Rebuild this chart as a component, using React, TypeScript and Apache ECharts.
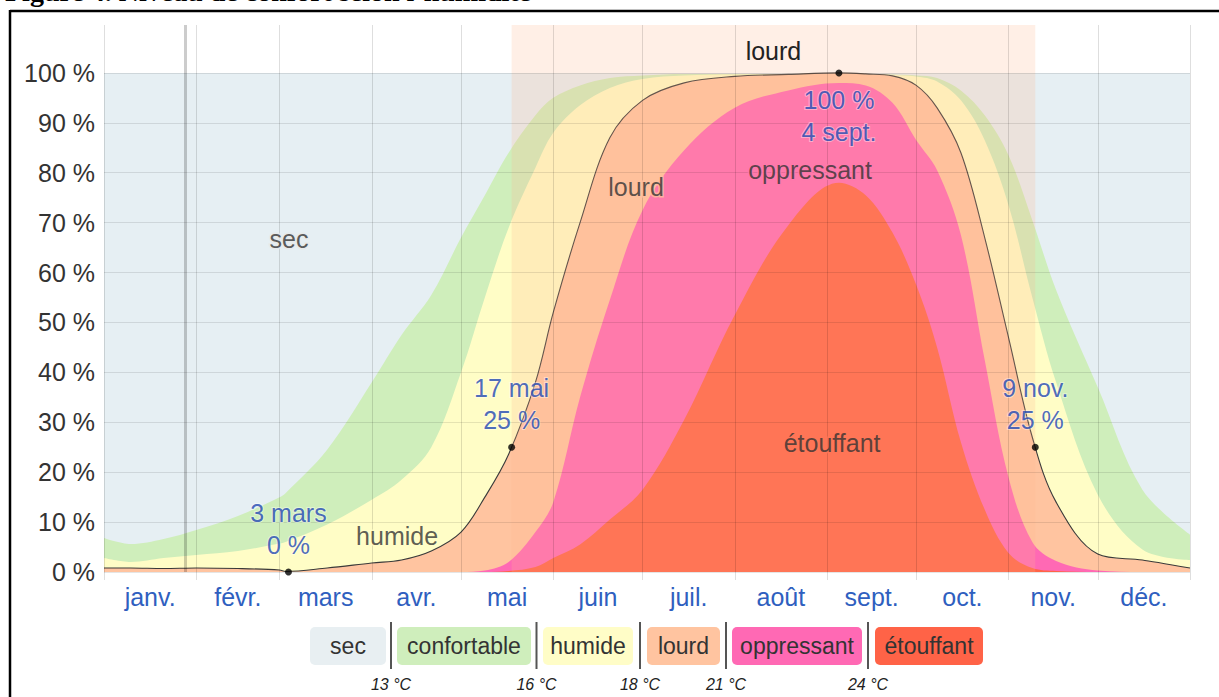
import React, { useEffect, useRef } from "react";
import * as echarts from "echarts";

// ---- data (day of year, cumulative % of time at or above each comfort level) ----
const days = [0, 9, 20, 31, 45, 59, 61, 75, 90, 100, 110, 120, 128, 136, 145, 151, 160, 170, 181, 195, 212, 230, 247, 256, 265, 273, 280, 288, 296, 304, 312, 320, 334, 349, 365];
const secTop = days.map(() => 100);
const confortableTop = [6.8, 5.6, 6.6, 8.4, 11.2, 15, 15.8, 24.5, 38, 47.5, 55.5, 67, 75.5, 84, 91.5, 95, 97.5, 99, 99.5, 99.8, 99.8, 99.8, 99.8, 99.8, 99.7, 99.5, 99, 96.5, 91.5, 83.5, 70.5, 56.5, 37, 16.5, 7.5];
const humideTop = [2.8, 2.0, 2.8, 3.4, 4.2, 5.7, 6.0, 9.5, 14.5, 18.5, 25, 40, 55, 69, 81, 88, 93.5, 97, 98.8, 99.5, 99.7, 99.7, 99.7, 99.7, 99.6, 99.3, 98.3, 94.5, 86.5, 73.5, 55, 38, 15.5, 4.5, 2.4];
const lourdTop = [0.8, 0.8, 0.7, 0.8, 0.7, 0.4, 0.1, 0.8, 1.8, 2.4, 4.2, 8, 15, 23.6, 38, 52, 70, 87, 94.5, 98, 99.3, 99.7, 100, 99.8, 99.4, 97.5, 93, 84, 67, 47, 27, 14, 3.6, 2.4, 0.8];
const oppressantTop = [0, 0, 0, 0, 0, 0, 0, 0, 0, 0, 0, 0, 0.3, 2, 8, 14, 35, 54.5, 72.5, 84.5, 93, 96.5, 98, 97.5, 94, 86.5, 80.5, 67.5, 42.5, 19, 6, 2.2, 0.3, 0, 0];
const etouffantTop = [0, 0, 0, 0, 0, 0, 0, 0, 0, 0, 0, 0, 0, 0.2, 1, 2.8, 5.5, 10.5, 16.5, 30.5, 51.5, 69.5, 78, 75.5, 68, 57.5, 45, 26, 12.5, 3.8, 0.8, 0.2, 0, 0, 0];

const monthNames = ["janv.", "févr.", "mars", "avr.", "mai", "juin", "juil.", "août", "sept.", "oct.", "nov.", "déc."];
const monthStarts = [0, 31, 59, 90, 120, 151, 181, 212, 243, 273, 304, 334, 365];
const monthMids = monthStarts.slice(0, 12).map((s, i) => (s + monthStarts[i + 1]) / 2);
const yTicks = [0, 10, 20, 30, 40, 50, 60, 70, 80, 90, 100];

const todayDay = 27.3;
const lourdSeason = [137, 313];
const annotations = [
  { day: 62, value: 0, text: "3 mars\n0 %", pos: "top" },
  { day: 137, value: 25, text: "17 mai\n25 %", pos: "top" },
  { day: 247, value: 100, text: "100 %\n4 sept.", pos: "bottom" },
  { day: 313, value: 25, text: "9 nov.\n25 %", pos: "top" },
];
const regionLabels = [
  { day: 62.2, value: 66.7, text: "sec", halo: "#e8e9e8" },
  { day: 98.5, value: 7.2, text: "humide", halo: "#fffdc6" },
  { day: 178.8, value: 77.2, text: "lourd", halo: "#ffc09e" },
  { day: 237.3, value: 80.6, text: "oppressant", halo: "#ff79ab" },
  { day: 244.7, value: 25.9, text: "étouffant", halo: "#ff7556" },
];

const legendNames = ["sec", "confortable", "humide", "lourd", "oppressant", "étouffant"];
const legendColors = ["#e8eff2", "#cfeebc", "#fffdc7", "#ffc4a0", "#ff69b4", "#ff6347"];
const chartColors = ["#e6eff3", "#cfeebb", "#fffdc6", "#ffc4a0", "#ff69b4", "#ff6347"];
const tempLabels = ["13 °C", "16 °C", "18 °C", "21 °C", "24 °C"];

const FONT = "'Liberation Sans', Arial, sans-serif";

export default function App() {
  const ref = useRef<HTMLDivElement>(null);
  useEffect(() => {
    if (!ref.current) return;
    const chart = echarts.init(ref.current, undefined, { renderer: "svg" });
    const tops = [secTop, confortableTop, humideTop, lourdTop, oppressantTop, etouffantTop];
    const areaSeries = tops.map((arr, i) => ({
      type: "line",
      name: legendNames[i],
      data: days.map((d, j) => [d, arr[j]]),
      smooth: 0.35,
      showSymbol: false,
      symbol: "none",
      z: 2 + i,
      lineStyle: i === 3 ? { color: "#3a3a3a", width: 1.1 } : { width: 0 },
      areaStyle: { color: chartColors[i], opacity: 1 },
      emphasis: { disabled: true },
      silent: true,
    }));

    // legend layout
    const boxX = [310, 397, 543, 647, 732, 875];
    const boxW = [76, 134, 90, 73, 130, 108];
    const sepX = [391, 536.5, 640, 726, 868];
    const graphics: any[] = [];
    legendNames.forEach((n, i) => {
      graphics.push({
        type: "rect",
        shape: { x: boxX[i], y: 627, width: boxW[i], height: 38, r: 5 },
        style: { fill: legendColors[i] },
      });
      graphics.push({
        type: "text",
        x: boxX[i] + boxW[i] / 2,
        y: 646,
        style: { text: n, fill: "#333", font: `23px ${FONT}`, textAlign: "center", textVerticalAlign: "middle" },
      });
    });
    sepX.forEach((x, i) => {
      graphics.push({ type: "line", shape: { x1: x, y1: 622, x2: x, y2: 669 }, style: { stroke: "#555", lineWidth: 2 } });
      graphics.push({
        type: "text",
        x,
        y: 684,
        style: { text: tempLabels[i], fill: "#222", font: `italic 16px ${FONT}`, textAlign: "center", textVerticalAlign: "middle" },
      });
    });
    // frame + clipped title
    graphics.push({ type: "line", shape: { x1: 10, y1: 11, x2: 1219, y2: 11 }, style: { stroke: "#000", lineWidth: 2.5 } });
    graphics.push({ type: "line", shape: { x1: 10, y1: 10, x2: 10, y2: 697 }, style: { stroke: "#000", lineWidth: 2.5 } });
    graphics.push({
      type: "text",
      x: 5,
      y: 5,
      style: { text: "Figure 4. Niveau de confort selon l’humidité", fill: "#000", font: `bold 28px 'Liberation Serif', serif`, textAlign: "left", textVerticalAlign: "bottom" },
    });

    chart.setOption({
      animation: false,
      backgroundColor: "#fff",
      grid: { left: 104, right: 29, top: 25, bottom: 125, containLabel: false, outerBoundsMode: "none" },
      xAxis: {
        type: "value",
        min: 0,
        max: 365,
        z: 20,
        axisLine: { show: false },
        axisTick: { show: true, customValues: monthStarts, length: 8, lineStyle: { color: "rgba(0,0,0,0.13)" } },
        axisLabel: {
          customValues: monthMids,
          formatter: (v: number) => {
            const k = monthMids.findIndex((m) => Math.abs(m - v) < 0.01);
            return k >= 0 ? monthNames[k] : "";
          },
          color: "#2f5fbf",
          fontSize: 25,
          fontFamily: FONT,
          margin: 12,
        },
        splitLine: { show: true, lineStyle: { color: "rgba(0,0,0,0.13)", width: 1 } },
      },
      yAxis: {
        type: "value",
        min: 0,
        max: 109.6,
        interval: 10,
        z: 20,
        axisLine: { show: false },
        axisTick: { show: false },
        axisLabel: {
          formatter: (v: number) => (yTicks.indexOf(Math.round(v)) >= 0 && v <= 100.01 ? `${Math.round(v)} %` : ""),
          color: "#333",
          fontSize: 25,
          fontFamily: FONT,
          margin: 9,
          showMaxLabel: false,
        },
        splitLine: { show: true, showMaxLine: false, lineStyle: { color: "rgba(0,0,0,0.1)", width: 1 } },
      },
      series: [
        ...areaSeries,
        {
          type: "line",
          name: "overlay",
          data: [],
          z: 9,
          silent: true,
          markLine: {
            silent: true,
            z: 15,
            symbol: "none",
            label: { show: false },
            lineStyle: { color: "rgba(0,0,0,0.2)", width: 3, type: "solid" },
            data: [{ xAxis: todayDay }],
          },
          markArea: {
            silent: true,
            z: 15,
            itemStyle: { color: "rgba(255,180,140,0.22)" },
            label: { show: true, position: "insideTop", distance: 13, color: "#222", fontSize: 25, fontFamily: FONT },
            data: [[{ name: "lourd", xAxis: lourdSeason[0] }, { xAxis: lourdSeason[1] }]],
          },
        },
        {
          type: "scatter",
          name: "regions",
          z: 21,
          silent: true,
          symbolSize: 0,
          data: regionLabels.map((r) => ({
            value: [r.day, r.value],
            label: {
              show: true,
              position: "inside",
              formatter: r.text,
              color: "#333",
              fontSize: 25,
              fontFamily: FONT,
              textBorderColor: r.halo,
              textBorderWidth: 3,
            },
          })),
        },
        {
          type: "scatter",
          name: "annotations",
          z: 22,
          silent: true,
          symbol: "circle",
          symbolSize: 7,
          itemStyle: { color: "#000" },
          data: annotations.map((a) => ({
            value: [a.day, a.value],
            label: {
              show: true,
              position: a.pos,
              distance: 8,
              formatter: a.text,
              color: "#1e46b0",
              fontSize: 25,
              lineHeight: 32,
              fontFamily: FONT,
              align: "center",
              textBorderColor: "rgba(255,255,255,0.5)",
              textBorderWidth: 2,
            },
          })),
        },
      ],
      graphic: graphics,
    } as any);
    return () => chart.dispose();
  }, []);
  return <div ref={ref} style={{ position: "absolute", left: 0, top: 0, width: 1219, height: 697 }} />;
}
